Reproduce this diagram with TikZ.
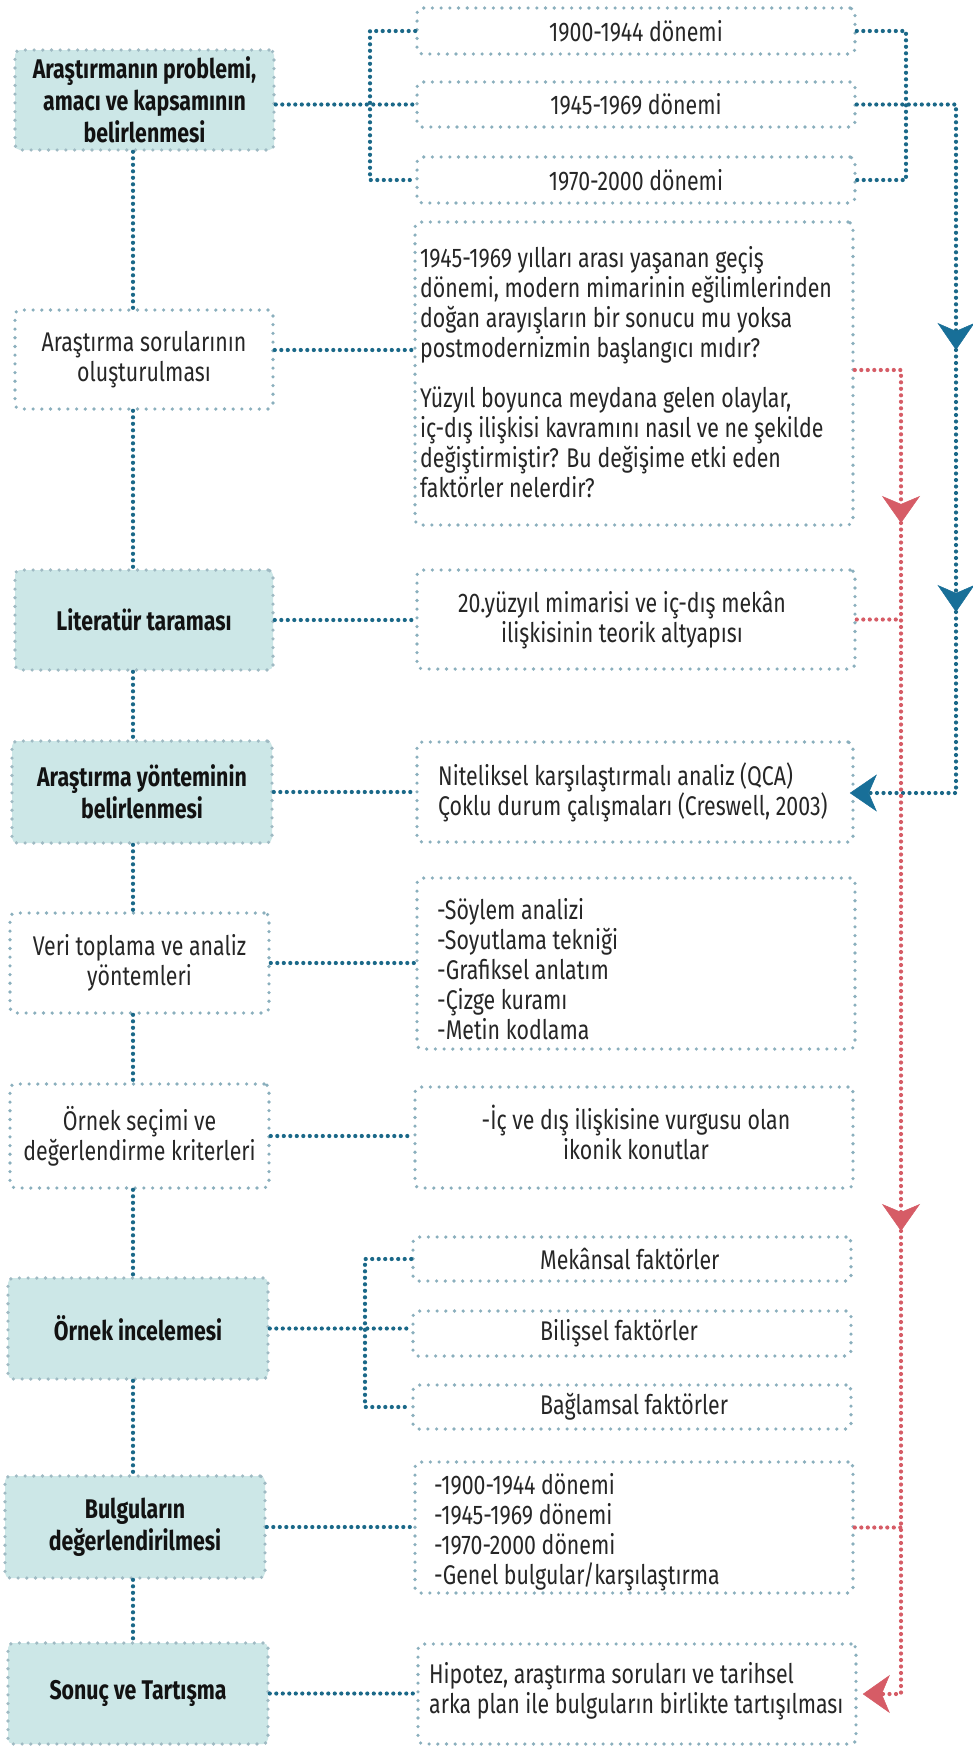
\documentclass[tikz,border=0pt]{standalone}
\usepackage{fontspec}
\setmainfont{Fira Sans}[FakeStretch=0.79]
\usetikzlibrary{arrows.meta}
\definecolor{tealfill}{HTML}{CCE7E7}
\definecolor{boxdot}{HTML}{8AAFBD}
\definecolor{tealdot}{HTML}{9FBAC3}
\definecolor{conblue}{HTML}{1A6888}
\definecolor{arrblue}{HTML}{186F98}
\definecolor{conred}{HTML}{D65C66}
\definecolor{txt}{HTML}{262626}
\definecolor{txtb}{HTML}{121212}
\tikzset{
 box/.style={draw=boxdot, line width=3.6pt, dash pattern=on 0pt off 8.7pt, line cap=round, rounded corners=5pt, inner sep=0pt, align=center, text=txt, font=\fontsize{27}{30}\selectfont},
 tbox/.style={box, fill=tealfill, draw=tealdot, text=txtb, font=\fontsize{27}{32}\selectfont\bfseries},
 rtxt/.style={inner sep=0pt, align=left, anchor=west, text=txt, font=\fontsize{27}{30}\selectfont},
 ctxt/.style={rtxt, align=center, anchor=center},
 conn/.style={draw=conblue, line width=4.2pt, dash pattern=on 0pt off 6.5pt, line cap=round},
 rconn/.style={conn, draw=conred},
 btip/.style={-{Stealth[length=27pt, width=37pt, inset=8pt, color=arrblue, line width=0.5pt]}},
 rtip/.style={-{Stealth[length=27pt, width=38pt, inset=8pt, color=conred, line width=0.5pt]}},
}
\begin{document}
\begin{tikzpicture}[x=1pt,y=-1pt]
\useasboundingbox (0,0) rectangle (973,1746);
\fill[white] (0,0) rectangle (973,1746);
% left column
\node[tbox, minimum width=259pt, minimum height=100pt] (L1) at (144.5,100) {Araştırmanın problemi,\\amacı ve kapsamının\\belirlenmesi};
\node[box, minimum width=258pt, minimum height=99pt] (L2) at (144,359.5) {Araştırma sorularının\\oluşturulması};
\node[tbox, minimum width=258pt, minimum height=100pt] (L3) at (144,620) {Literatür taraması};
\node[tbox, minimum width=260pt, minimum height=102pt] (L4) at (142,792) {Araştırma yönteminin\\belirlenmesi};
\node[box, minimum width=259pt, minimum height=100pt] (L5) at (139.5,963) {Veri toplama ve analiz\\yöntemleri};
\node[box, minimum width=259pt, minimum height=104pt] (L6) at (139.5,1136) {Örnek seçimi ve\\değerlendirme kriterleri};
\node[tbox, minimum width=260pt, minimum height=101pt] (L7) at (138,1328.5) {Örnek incelemesi};
\node[tbox, minimum width=260pt, minimum height=102pt] (L8) at (135,1527) {Bulguların\\değerlendirilmesi};
\node[tbox, minimum width=260pt, minimum height=101pt] (L9) at (138,1693.5) {Sonuç ve Tartışma};
% right column
\node[box, minimum width=438pt, minimum height=46pt] (R1) at (636,31) {1900-1944 dönemi};
\node[box, minimum width=438pt, minimum height=45pt] (R2) at (636,104.5) {1945-1969 dönemi};
\node[box, minimum width=438pt, minimum height=46pt] (R3) at (636,180) {1970-2000 dönemi};
\node[box, minimum width=438pt, minimum height=303pt] (R4) at (634,373.5) {};
\node[rtxt] (R4t) at (420,372) {1945-1969 yılları arası yaşanan geçiş\\dönemi, modern mimarinin eğilimlerinden\\doğan arayışların bir sonucu mu yoksa\\postmodernizmin başlangıcı mıdır?\\[20pt]Yüzyıl boyunca meydana gelen olaylar,\\iç-dış ilişkisi kavramını nasıl ve ne şekilde\\değiştirmiştir? Bu değişime etki eden\\faktörler nelerdir?};
\node[box, minimum width=438pt, minimum height=99pt] (R5) at (636,619.5) {};
\node[ctxt] (R5t) at (622,620) {20.yüzyıl mimarisi ve iç-dış mekân\\ilişkisinin teorik altyapısı};
\node[box, minimum width=436pt, minimum height=100pt] (R6) at (635,792) {};
\node[rtxt] (R6t) at (438,792) {Niteliksel karşılaştırmalı analiz (QCA)\\Çoklu durum çalışmaları (Creswell, 2003)};
\node[box, minimum width=438pt, minimum height=171pt] (R7) at (636,963.5) {};
\node[rtxt] (R7t) at (437,969) {-Söylem analizi\\-Soyutlama tekniği\\-Grafiksel anlatım\\-Çizge kuramı\\-Metin kodlama};
\node[box, minimum width=438pt, minimum height=101pt] (R8) at (634,1137.5) {};
\node[ctxt] (R8t) at (636,1132) {-İç ve dış ilişkisine vurgusu olan\\ikonik konutlar};
\node[box, minimum width=438pt, minimum height=44pt] (R9) at (632,1259) {};
\node[rtxt] (R9t) at (540,1259) {Mekânsal faktörler};
\node[box, minimum width=438pt, minimum height=45pt] (R10) at (632,1333.5) {};
\node[rtxt] (R10t) at (540,1333.5) {Bilişsel faktörler};
\node[box, minimum width=438pt, minimum height=44pt] (R11) at (632,1407) {};
\node[rtxt] (R11t) at (540,1407) {Bağlamsal faktörler};
\node[box, minimum width=438pt, minimum height=131pt] (R12) at (634,1527.5) {};
\node[rtxt] (R12t) at (434,1532) {-1900-1944 dönemi\\-1945-1969 dönemi\\-1970-2000 dönemi\\-Genel bulgular/karşılaştırma};
\node[box, minimum width=438pt, minimum height=100pt] (R13) at (637,1694) {};
\node[rtxt] (R13t) at (429,1691) {Hipotez, araştırma soruları ve tarihsel\\arka plan ile bulguların birlikte tartışılması};
% coordinates
\coordinate (col) at (133,0);
\coordinate (lbx) at (370,0);
\coordinate (lbx2) at (365,0);
\coordinate (rbx) at (906,0);
\coordinate (c2) at (0,350);
\coordinate (b2) at (956,350);
\coordinate (b3) at (956,612);
\coordinate (b4) at (956,793);
\coordinate (r0) at (901,370);
\coordinate (r1) at (901,523);
\coordinate (r2) at (901,1231);
\coordinate (r3) at (901,1694);
% left vertical chain
\foreach \a/\b in {L1/L2,L2/L3,L3/L4,L4/L5,L5/L6,L6/L7,L7/L8,L8/L9}
  \draw[conn] (\a.south -| col) -- (\b.north -| col);
% left-right connectors
\draw[conn] (L1.east |- R2.west) -- (R2.west);
\draw[conn] (R1.west) -- (R1.west -| lbx) -- (R3.west -| lbx) -- (R3.west);
\draw[conn] (L2.east |- c2) -- (R4.west |- c2);
\draw[conn] (L3.east) -- (L3.east -| R5.west);
\draw[conn] (L4.east) -- (L4.east -| R6.west);
\draw[conn] (L5.east) -- (L5.east -| R7.west);
\draw[conn] (L6.east) -- (L6.east -| R8.west);
\draw[conn] (L7.east) -- (L7.east -| R10.west);
\draw[conn] (R9.west) -- (R9.west -| lbx2) -- (R11.west -| lbx2) -- (R11.west);
\draw[conn] (L8.east) -- (L8.east -| R12.west);
\draw[conn] (L9.east) -- (L9.east -| R13.west);
% right side blue
\draw[conn] (R1.east) -- (R1.east -| rbx) -- (R3.east -| rbx) -- (R3.east);
\draw[conn,btip] (R2.east) -- (R2.east -| b2) -- (b2);
\draw[conn,btip] (b2) -- (b3);
\draw[conn,btip,shorten >=-5pt] (b3) -- (b4) -- (b4 -| R6.east);
% right side red
\draw[rconn,rtip] (r0 -| R4.east) -- (r0) -- (r1);
\draw[rconn,rtip] (r1) -- (r2);
\draw[rconn,rtip,shorten >=5pt] (r2) -- (r3) -- (r3 -| R13.east);
\draw[rconn] (R5.east) -- (R5.east -| r0);
\draw[rconn] (R12.east) -- (R12.east -| r0);
\end{tikzpicture}
\end{document}
